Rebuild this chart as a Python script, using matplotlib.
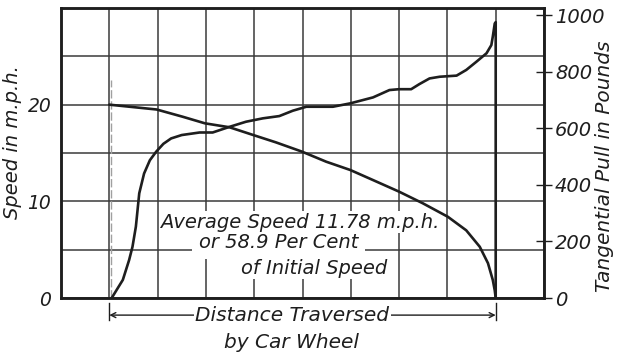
import matplotlib.pyplot as plt
import matplotlib.transforms as mtransforms
import numpy as np

plt.rcParams['font.family'] = ['DejaVu Sans']
plt.rcParams['font.style'] = 'italic'

# distance along the run, in grid divisions
SpeedDist = [1.0, 1.98, 2.52, 2.98, 3.49, 3.98, 4.45, 4.99, 5.49, 5.99, 6.46, 7.0,
             7.49, 8.01, 8.39, 8.67, 8.84, 8.94, 8.98, 9.0]
SpeedMph = [20.0, 19.5, 18.75, 18.07, 17.66, 16.86, 16.1, 15.14, 14.1, 13.24, 12.2, 11.0,
            9.8, 8.4, 7.0, 5.3, 3.6, 1.86, 0.8, 0.0]

PullDist = [1.05, 1.15, 1.28, 1.41, 1.48, 1.55, 1.62, 1.72, 1.84, 1.97, 2.12, 2.28, 2.5, 2.87,
            3.14, 3.49, 3.83, 4.18, 4.52, 4.80, 5.08, 5.63, 5.99, 6.46, 6.80, 7.0, 7.25,
            7.42, 7.63, 7.84, 8.19, 8.39, 8.60, 8.81, 8.91, 8.94, 8.98, 9.0, 9.0]
PullLb = [0, 28, 64, 134, 181, 252, 370, 440, 487, 517, 545, 564, 576, 585,
          585, 605, 623, 635, 643, 662, 676, 676, 688, 709, 735, 738, 738,
          756, 776, 782, 786, 806, 835, 865, 894, 924, 970, 975, 0]

SpeedTicks = [0, 5, 10, 15, 20, 25, 30]
SpeedLabels = ['0', '', '10', '', '20', '', '']
PullTicks = [0, 200, 400, 600, 800, 1000]

Ink = '#1e1e1e'
GridInk = '#3a3a3a'
FontSize = 14

Fig = plt.figure(figsize=(6.18, 3.52), dpi=100)
Ax = Fig.add_axes([61 / 618, 54 / 352, 483 / 618, 290 / 352])
Ax.set_xlim(0, 10)
Ax.set_ylim(0, 30)
Ax.set_xticks(range(11))
Ax.set_xticklabels([])
Ax.set_yticks(SpeedTicks)
Ax.set_yticklabels(SpeedLabels)
Ax.tick_params(axis='x', length=0)
Ax.tick_params(axis='y', length=0, pad=7, labelsize=FontSize - 0.5, labelcolor=Ink)
Ax.grid(True, color=GridInk, linewidth=1.1)
for Spine in Ax.spines.values():
    Spine.set_linewidth(1.8)
    Spine.set_color(Ink)

Ax2 = Ax.twinx()
Ax2.set_ylim(0, 1025)
Ax2.set_yticks(PullTicks)
Ax2.tick_params(axis='y', direction='inout', length=12, width=1.0, pad=2,
                labelsize=FontSize, labelcolor=Ink, color=Ink)
for Spine in Ax2.spines.values():
    Spine.set_linewidth(1.8)
    Spine.set_color(Ink)

# faint construction line at the start of the run
Ax.plot([1.04, 1.04], [0, 22.6], color='#a0a0a0', lw=1.0, ls=(0, (6, 2)), zorder=1.6)

Ax.plot(SpeedDist, SpeedMph, color=Ink, lw=1.9, zorder=4, solid_capstyle='round')
Ax2.plot(PullDist, PullLb, color=Ink, lw=1.9, zorder=4, solid_joinstyle='round')

Ax.text(2.05, 7.86, 'Average Speed 11.78 m.p.h.', fontsize=FontSize, color=Ink,
        ha='left', va='center', zorder=2.6,
        bbox=dict(facecolor='white', edgecolor='none', pad=1.0))
Ax.text(2.85, 5.7, 'or 58.9 Per Cent', fontsize=FontSize, color=Ink,
        ha='left', va='center', zorder=2.4,
        bbox=dict(facecolor='white', edgecolor='none', pad=5))
Ax.text(3.72, 3.1, 'of Initial Speed', fontsize=FontSize, color=Ink,
        ha='left', va='center', zorder=2.5,
        bbox=dict(facecolor='white', edgecolor='none', pad=1.0))

# dimension line under the axis
Trans = mtransforms.blended_transform_factory(Ax.transData, Ax.transAxes)
X0, X1 = SpeedDist[0], SpeedDist[-1]
Ax.annotate('', xy=(X0, -0.059), xytext=(X1, -0.059), xycoords=Trans, textcoords=Trans,
            arrowprops=dict(arrowstyle='<->', color=Ink, lw=1.0, shrinkA=0, shrinkB=0,
                            mutation_scale=9), annotation_clip=False)
for Xe in (X0, X1):
    Ax.plot([Xe, Xe], [-0.017, -0.076], color=Ink, lw=1.0, transform=Trans, clip_on=False)
Ax.text(4.79, -0.059, 'Distance Traversed', transform=Trans, fontsize=FontSize + 0.5,
        color=Ink, ha='center', va='center',
        bbox=dict(facecolor='white', edgecolor='none', pad=1))
Ax.text(4.77, -0.152, 'by Car Wheel', transform=Trans, fontsize=FontSize + 0.5,
        color=Ink, ha='center', va='center')

Fig.text(13 / 618, 1 - 142 / 352, 'Speed in m.p.h.', rotation=90, fontsize=FontSize,
         color=Ink, ha='center', va='center')
Fig.text(605 / 618, 1 - 166 / 352, 'Tangential Pull in Pounds', rotation=90,
         fontsize=FontSize + 0.5, color=Ink, ha='center', va='center')

Fig.savefig('out.png', dpi=100, facecolor='white')
plt.close(Fig)
